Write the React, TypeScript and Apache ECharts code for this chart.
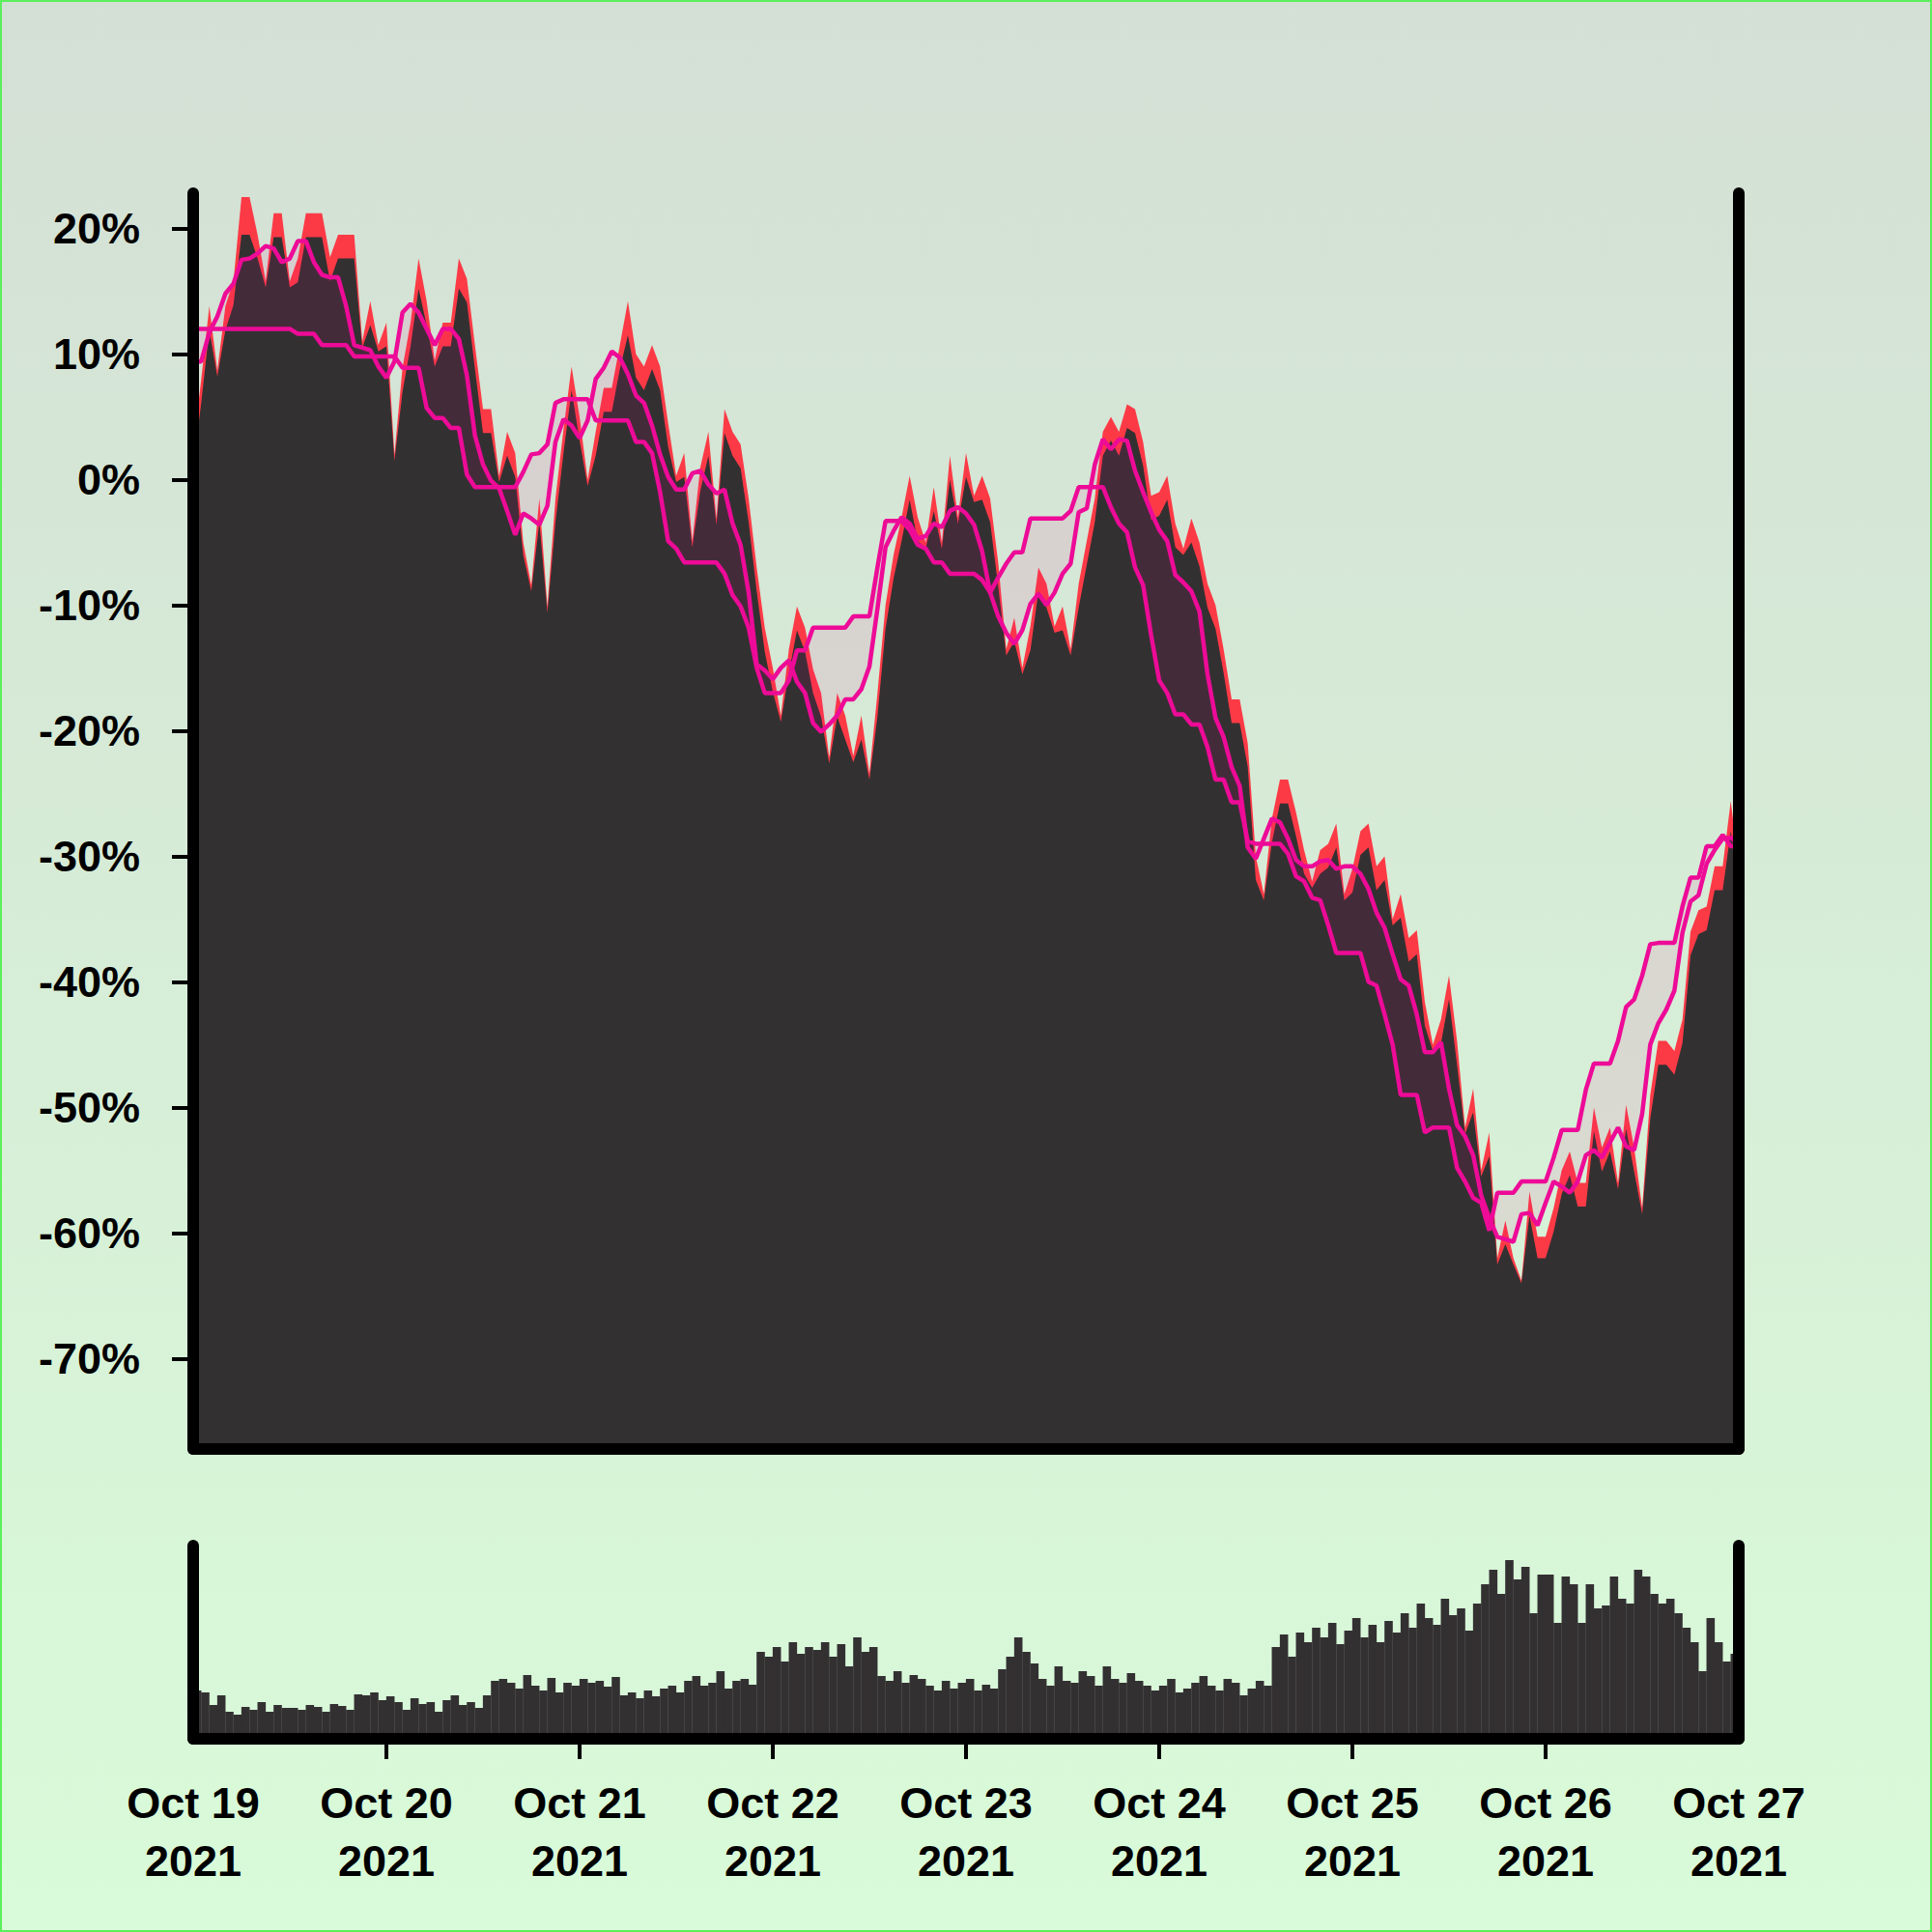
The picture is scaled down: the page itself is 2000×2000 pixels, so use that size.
import React, { useEffect, useRef } from 'react';
import * as echarts from 'echarts';

// hourly samples, Oct 19 2021 00:00 .. Oct 27 2021 00:00 (x = hours since start)
const dayLabels = ['Oct 19\n2021', 'Oct 20\n2021', 'Oct 21\n2021', 'Oct 22\n2021', 'Oct 23\n2021', 'Oct 24\n2021', 'Oct 25\n2021', 'Oct 26\n2021', 'Oct 27\n2021'];
const dayHours = [0, 24, 48, 72, 96, 120, 144, 168, 192];
const innerDayHours = [24, 48, 72, 96, 120, 144, 168];
const yTicks = [-70, -60, -50, -40, -30, -20, -10, 0, 10, 20];

// % change, upper (red) envelope
const high = [
  2.5, 8, 13.8, 8.7, 13.8, 15.8, 22.5, 22.5, 19.5, 15.8,
  21.2, 21.2, 15.8, 17.6, 21.2, 21.2, 21.2, 17.7, 19.5, 19.5,
  19.5, 11, 14.2, 10.7, 12.5, 2, 8.9, 12.5, 17.6, 14.2,
  9.5, 12.5, 12.5, 17.6, 16, 10.7, 5.6, 5.6, 0.3, 3.8,
  2.1, -5, -8.4, -1.5, -10.1, -1.5, 4, 9, 5, 0,
  3.8, 7.3, 7.3, 10.7, 14.2, 10, 9, 10.7, 9, 4.5,
  0.3, 2.1, -4.9, 1, 3.8, -3.1, 5.6, 3.8, 2.8, -1.5,
  -7, -11.8, -15, -18.8, -13.5, -10.1, -11.8, -15.1, -17, -22.1,
  -17, -18.8, -22, -18.8, -23.4, -17, -10, -6, -3, 0.3,
  -3, -5, -0.6, -5, 1.9, -3, 2.1, -1.3, 0.3, -1.5,
  -6.6, -13.5, -11, -15, -11.7, -7, -8.3, -11.7, -10.1, -13.5,
  -8.3, -4.9, -1.5, 3.8, 5, 3.8, 6, 5.6, 3, -1.3,
  -1, 0.3, -3.5, -5.5, -3.1, -5, -8.3, -10, -13.5, -17.5,
  -17.5, -21, -30, -33, -27, -23.9, -23.9, -26.5, -29.5, -32,
  -29.5, -29, -27.4, -33, -31, -28, -27.4, -30.8, -30, -35,
  -33, -36.5, -35.9, -41.6, -45, -43, -39.5, -44.7, -51.6, -48.5,
  -55, -52, -62, -59, -62, -63.8, -56.7, -60.3, -60.3, -58,
  -55, -53.5, -56, -56, -50, -53.2, -51.6, -56, -49.8, -53.2,
  -58, -49, -44.7, -44.7, -45.5, -43, -36, -34.3, -34, -30.8,
  -30.8, -25.6, -30.8,
];

// % change, lower (dark) level
const low = [
  1.0, 6.1, 11.9, 8.2, 11.9, 13.9, 19.5, 19.5, 17.6, 15.3,
  19.3, 19.3, 15.3, 15.7, 19.3, 19.3, 19.3, 15.8, 17.6, 17.6,
  17.6, 10.5, 12.3, 10.2, 10.6, 1.5, 7.0, 10.6, 15.2, 12.3,
  9.0, 10.6, 10.6, 15.2, 14.1, 8.8, 3.7, 3.7, -0.2, 1.9,
  0.2, -6.0, -8.9, -3.4, -10.6, -3.4, 2.1, 7.1, 3.1, -0.5,
  1.9, 5.4, 5.4, 8.8, 11.5, 8.1, 7.1, 8.8, 7.1, 2.6,
  -0.2, 0.2, -5.4, -0.9, 1.9, -3.6, 3.7, 1.9, 0.9, -3.4,
  -8.9, -13.7, -16.9, -19.3, -15.4, -12.0, -13.7, -17.0, -18.9, -22.6,
  -18.9, -20.7, -22.5, -20.7, -23.9, -18.9, -11.9, -7.9, -4.9, -1.6,
  -4.9, -5.5, -2.5, -5.5, 0.0, -3.5, 0.2, -1.8, -1.6, -3.4,
  -8.5, -14.0, -12.9, -15.5, -13.6, -8.9, -10.2, -12.2, -12.0, -14.0,
  -10.2, -6.8, -3.4, 1.9, 3.1, 1.9, 4.1, 3.7, 1.1, -3.2,
  -2.9, -1.6, -5.4, -6.0, -5.0, -6.9, -10.2, -11.9, -15.4, -19.4,
  -19.4, -22.9, -31.9, -33.5, -28.9, -25.8, -25.8, -28.4, -31.4, -32.5,
  -31.4, -30.9, -29.3, -33.5, -32.9, -29.9, -29.3, -32.7, -31.9, -35.5,
  -34.9, -38.4, -37.8, -43.5, -45.5, -44.9, -41.4, -46.6, -52.1, -50.4,
  -55.5, -53.9, -62.5, -60.9, -62.5, -64.0, -58.6, -62.0, -62.0, -59.9,
  -56.9, -55.4, -57.9, -57.9, -51.9, -55.1, -53.5, -56.5, -51.7, -55.1,
  -58.5, -50.9, -46.6, -46.6, -47.4, -44.9, -37.9, -36.2, -35.9, -32.7,
  -32.7, -28.0, -31.5,
];

// stepped average line
const maStep = [
  12, 12, 12, 12, 12, 12, 12, 12, 12, 12,
  12, 12, 12, 11.6, 11.6, 11.6, 10.7, 10.7, 10.7, 10.7,
  9.8, 9.8, 9.8, 9.8, 9.8, 9.8, 8.9, 8.9, 8.9, 5.7,
  4.9, 4.9, 4.1, 4.1, 0.4, -0.6, -0.6, -0.6, -0.6, -0.6,
  -0.6, 0.6, 2.0, 2.1, 2.8, 6.1, 6.4, 6.4, 6.4, 6.4,
  4.7, 4.7, 4.7, 4.7, 4.7, 3.0, 3.0, 2.1, -1, -4.9,
  -5.5, -6.6, -6.6, -6.6, -6.6, -6.6, -7.5, -9.2, -10.1, -11.8,
  -15, -17, -17, -17, -16, -13.6, -13.6, -11.8, -11.8, -11.8,
  -11.8, -11.8, -10.9, -10.9, -10.9, -7, -3.3, -3.3, -3.3, -4,
  -5.2, -5.5, -6.6, -6.6, -7.5, -7.5, -7.5, -7.5, -8.0, -9.0,
  -7.8, -6.7, -5.8, -5.8, -3.1, -3.1, -3.1, -3.1, -3.1, -2.5,
  -0.6, -0.6, -0.6, -0.6, -2.2, -3.5, -4.2, -7, -8.4, -12.4,
  -16, -17, -18.7, -18.7, -19.5, -19.5, -21.3, -23.9, -23.9, -25.7,
  -25.7, -28.8, -29, -29, -29, -29, -29.8, -31.6, -32, -33.3,
  -33.5, -35.5, -37.7, -37.7, -37.7, -37.7, -40, -40.3, -42.6, -45,
  -49, -49, -49, -52, -51.6, -51.6, -51.6, -54.8, -55.9, -57.2,
  -57.6, -59.8, -56.8, -56.8, -56.8, -55.9, -55.9, -55.9, -55.9, -54,
  -51.8, -51.8, -51.8, -48.6, -46.5, -46.5, -46.5, -44.7, -42, -41.4,
  -39.5, -37, -36.9, -36.9, -36.9, -34, -31.7, -31.7, -29.2, -29.2,
  -28.3, -29.2, -29.2,
];

// smooth average line
const maSmooth = [
  9.4, 9.4, 11.7, 13.0, 14.8, 15.6, 17.5, 17.6, 18.0, 18.6,
  18.4, 17.3, 17.6, 19.0, 19.0, 17.3, 16.3, 16.1, 16.1, 13.8,
  10.7, 10.5, 10.3, 9.0, 8.1, 9.4, 13.3, 14.0, 13.3, 12.0,
  10.7, 12.0, 12.0, 11.2, 8.3, 3.5, 1.2, -0.1, -0.7, -2.5,
  -4.4, -2.7, -3.1, -3.6, -2.1, 3.0, 4.8, 4.3, 3.3, 4.7,
  8.0, 8.9, 10.2, 9.7, 8.4, 6.7, 6.1, 4.3, 2.0, 0.2,
  -0.8, -0.8, 0.5, 0.7, -0.4, -1.1, -0.8, -3.5, -5.2, -9.0,
  -14.7, -15.2, -15.9, -15.0, -14.4, -16.1, -17, -19.4, -20.1, -19.5,
  -18.8, -17.5, -17.5, -16.7, -14.9, -10.3, -5.4, -4.1, -3, -3.5,
  -4.7, -4.5, -3.5, -3.8, -2.5, -2.2, -2.7, -3.6, -5.7, -9.0,
  -10.9, -12.2, -13.1, -12, -9.9, -9.1, -10.0, -9, -7.5, -6.7,
  -2.6, -2.3, 1.2, 3.2, 2.4, 3.2, 3.1, 0.7, -1.0, -2.6,
  -4.0, -4.9, -7.6, -8.2, -8.9, -10.5, -15.5, -19, -20.5, -22.9,
  -24.4, -29.3, -30.2, -28.6, -27, -27.3, -28.6, -30.3, -30.8, -30.8,
  -30.4, -30.3, -31, -30.8, -30.8, -31.4, -32.6, -34.5, -35.7, -37.8,
  -39.8, -40.3, -42.6, -45.6, -45.6, -44.8, -48.5, -51.4, -52.3, -53.8,
  -57.0, -58.8, -60.3, -60.5, -60.7, -58.5, -58.4, -59.4, -57.6, -55.9,
  -56.3, -56.8, -55.9, -53.8, -53.4, -54.0, -52.8, -51.6, -53.1, -53.4,
  -50.5, -45, -43.3, -42.2, -40.7, -36.1, -33.6, -33.1, -30.6, -29.5,
  -28.6, -28.5, -29,
];

// hourly volume (relative units)
const volume = [
  50, 48, 35, 45, 28, 25, 33, 30, 38, 28, 35, 32,
  32, 30, 35, 33, 28, 36, 34, 30, 46, 45, 48, 40, 44, 38,
  30, 42, 36, 38, 28, 40, 45, 35, 38, 32,
  45, 60, 62, 58, 52, 66, 55, 50, 63, 48, 58, 55,
  62, 58, 60, 54, 64, 45, 48, 42, 50, 44,
  52, 55, 48, 60, 65, 55, 58, 70, 52, 60, 62, 56,
  90, 85, 95, 80, 100, 88, 95, 92, 100, 85, 98, 75, 105, 90, 95,
  65, 60, 70, 58, 66, 62, 55, 50, 60, 52, 58, 62, 50, 56, 52,
  72, 85, 105, 90, 78,
  62, 55, 75, 60, 58, 70, 65, 55, 75, 62, 58, 68, 60, 55,
  50, 55, 62, 48, 52, 58, 65, 55, 50, 62, 58, 45, 52, 60, 55,
  95, 108, 85, 110, 100,
  115, 105, 120, 98, 112, 125, 105, 118, 100, 122, 110,
  130, 115, 140, 125, 118, 145, 128, 135, 112, 140,
  160, 175, 150, 185, 165, 178,
  130, 170, 170, 120, 168, 160, 120, 160, 135, 138, 168, 145, 140, 175, 168,
  150, 140, 145, 130, 115, 100, 70, 125, 100, 80, 88,
];

const FONT = '"Liberation Sans", Arial, Helvetica, sans-serif';
const DARK = '#333032';
const RED = '#fc3a46';
const PINK = '#ed0b97';
const BAND = 'rgba(247, 0, 147, 0.092)';

export default function App() {
  const ref = useRef<HTMLDivElement>(null);

  useEffect(() => {
    document.body.style.margin = '0';
    if (!ref.current) return;
    const chart = echarts.init(ref.current, null, { renderer: 'svg' });

    const pts = (arr: number[]) => arr.map((v, i) => [i, v]);
    const volData = volume.map((v, i) => [i + 0.5, v]);

    const axisLine = { show: true, onZero: false, lineStyle: { color: '#000', width: 12, cap: 'round' } };
    const labelStyle = { fontFamily: FONT, fontWeight: 'bold', fontSize: 45, color: '#000' };

    const option: any = {
      animation: false,
      backgroundColor: new echarts.graphic.LinearGradient(0, 0, 0, 1, [
        { offset: 0, color: '#d4dfd5' },
        { offset: 1, color: '#d9fbd9' },
      ]),
      graphic: [
        {
          type: 'rect',
          silent: true,
          z: 100,
          shape: { x: 1, y: 1, width: 1998, height: 1998 },
          style: { fill: 'none', stroke: '#5cef5c', lineWidth: 2 },
        },
      ],
      grid: [
        { left: 200, top: 200, width: 1600, height: 1300, containLabel: false, outerBoundsMode: 'none' },
        { left: 200, top: 1600, width: 1600, height: 200, containLabel: false, outerBoundsMode: 'none' },
      ],
      xAxis: [
        {
          type: 'value', gridIndex: 0, min: 0, max: 192, z: 10,
          axisLine, axisTick: { show: false }, axisLabel: { show: false }, splitLine: { show: false },
        },
        {
          type: 'value', gridIndex: 1, min: 0, max: 192, z: 10,
          axisLine,
          axisTick: { show: true, customValues: innerDayHours, length: 21, lineStyle: { color: '#000', width: 4 } },
          axisLabel: {
            show: true, customValues: dayHours, ...labelStyle, lineHeight: 60, margin: 36,
            formatter: (v: number) => dayLabels[Math.round(v / 24)] ?? '',
          },
          splitLine: { show: false },
        },
      ],
      yAxis: [
        {
          type: 'value', gridIndex: 0, min: -77.2, max: 22.8, position: 'left', z: 10,
          axisLine,
          axisTick: { show: true, customValues: yTicks, length: 22, lineStyle: { color: '#000', width: 4 } },
          axisLabel: { show: true, customValues: yTicks, ...labelStyle, margin: 55, formatter: (v: number) => `${v}%` },
          splitLine: { show: false },
        },
        {
          type: 'value', gridIndex: 0, min: -77.2, max: 22.8, position: 'right', z: 10,
          axisLine, axisTick: { show: false }, axisLabel: { show: false }, splitLine: { show: false },
        },
        {
          type: 'value', gridIndex: 1, min: 0, max: 200, position: 'left', z: 10,
          axisLine, axisTick: { show: false }, axisLabel: { show: false }, splitLine: { show: false },
        },
        {
          type: 'value', gridIndex: 1, min: 0, max: 200, position: 'right', z: 10,
          axisLine, axisTick: { show: false }, axisLabel: { show: false }, splitLine: { show: false },
        },
      ],
      series: [
        {
          name: 'high', type: 'line', xAxisIndex: 0, yAxisIndex: 0, data: pts(high),
          showSymbol: false, silent: true, lineStyle: { width: 0 }, itemStyle: { color: RED },
          areaStyle: { color: RED, opacity: 1, origin: 'start' }, z: 2,
        },
        {
          name: 'low', type: 'line', xAxisIndex: 0, yAxisIndex: 0, data: pts(low),
          showSymbol: false, silent: true, lineStyle: { width: 0 }, itemStyle: { color: DARK },
          areaStyle: { color: DARK, opacity: 1, origin: 'start' }, z: 2,
        },
        {
          name: 'band', type: 'custom', coordinateSystem: 'cartesian2d', xAxisIndex: 0, yAxisIndex: 0,
          data: [[0, 0]], silent: true, z: 3,
          renderItem: (_params: any, api: any) => {
            const upper = maStep.map((v, i) => api.coord([i, v]));
            const lower = maSmooth.map((v, i) => api.coord([i, v])).reverse();
            return {
              type: 'polygon',
              shape: { points: upper.concat(lower) },
              style: { fill: BAND, stroke: 'none' },
            };
          },
        },
        {
          name: 'maStep', type: 'line', xAxisIndex: 0, yAxisIndex: 0, data: pts(maStep),
          showSymbol: false, silent: true, lineStyle: { color: PINK, width: 4.5 }, z: 4,
        },
        {
          name: 'maSmooth', type: 'line', xAxisIndex: 0, yAxisIndex: 0, data: pts(maSmooth),
          showSymbol: false, silent: true, lineStyle: { color: PINK, width: 4.5 }, z: 4,
        },
        {
          name: 'volume', type: 'bar', xAxisIndex: 1, yAxisIndex: 2, data: volData,
          barWidth: 8.6, silent: true, itemStyle: { color: DARK }, z: 2,
        },
      ],
    };

    chart.setOption(option);
    return () => chart.dispose();
  }, []);

  return <div ref={ref} style={{ width: 2000, height: 2000 }} />;
}
